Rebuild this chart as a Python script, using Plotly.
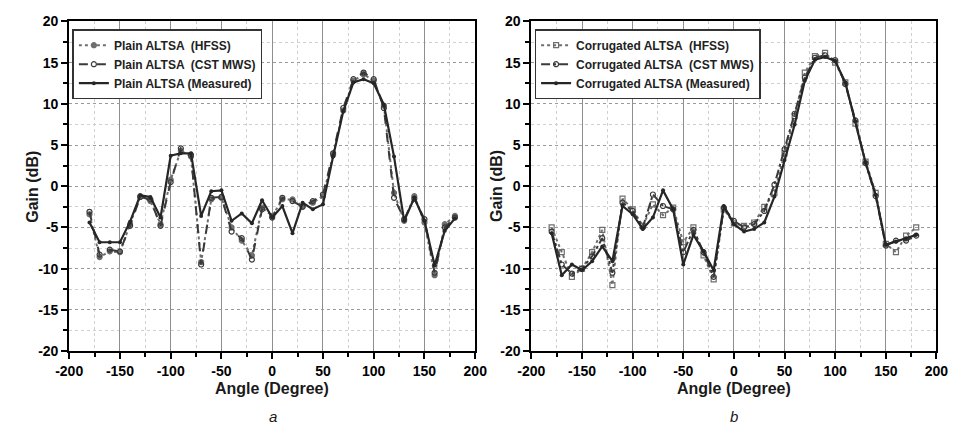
import plotly.graph_objects as go

# Angles (degrees) shared by every pattern cut
angle = [-180, -170, -160, -150, -140, -130, -120, -110, -100, -90, -80, -70, -60,
         -50, -40, -30, -20, -10, 0, 10, 20, 30, 40, 50, 60, 70, 80, 90, 100,
         110, 120, 130, 140, 150, 160, 170, 180]

# (a) Plain ALTSA gain, dB
plain_hfss = [-3.4, -8.6, -7.9, -8.0, -4.6, -1.2, -1.8, -4.6, 0.8, 4.3, 3.6, -9.2,
              -1.6, -1.4, -5.0, -6.6, -8.4, -2.6, -3.6, -1.6, -1.6, -2.4, -2.0, -1.2,
              3.8, 9.2, 12.8, 13.6, 12.8, 9.8, -0.8, -4.2, -1.2, -4.4, -10.8, -4.6, -3.6]
plain_cst = [-3.1, -8.3, -7.7, -7.9, -4.8, -1.3, -1.6, -4.8, 0.5, 4.6, 3.8, -9.5,
             -1.4, -1.3, -5.5, -6.3, -8.9, -2.8, -3.8, -1.4, -1.8, -2.5, -1.8, -1.0,
             4.0, 9.5, 13.0, 13.8, 13.0, 9.5, -1.4, -4.0, -1.5, -4.0, -10.5, -5.0, -3.8]
plain_meas = [-4.4, -6.8, -6.8, -6.8, -4.3, -1.1, -1.3, -3.8, 3.7, 4.0, 4.0, -3.6,
              -0.6, -0.5, -4.2, -3.3, -4.5, -1.7, -3.8, -2.4, -5.7, -2.0, -2.8, -2.2,
              3.6, 9.1, 12.6, 13.0, 12.5, 9.9, 3.6, -4.2, -1.4, -4.2, -9.6, -5.4, -3.9]

# (b) Corrugated ALTSA gain, dB
corr_hfss = [-5.0, -8.0, -11.0, -10.0, -8.0, -5.3, -12.0, -1.5, -2.8, -4.8, -2.2, -3.5,
             -2.6, -6.8, -5.0, -8.4, -11.3, -2.8, -4.5, -4.8, -4.4, -2.5, -0.8, 4.0,
             8.5, 13.8, 15.8, 16.2, 15.0, 12.6, 7.6, 3.0, -0.8, -7.0, -8.0, -6.0, -5.0]
corr_cst = [-5.5, -9.5, -10.6, -10.0, -8.5, -6.3, -10.5, -2.0, -3.0, -5.0, -1.0, -2.4,
            -2.8, -8.0, -5.3, -8.0, -11.0, -2.6, -4.2, -5.0, -4.6, -3.0, 0.2, 4.5,
            8.8, 13.2, 15.6, 15.9, 15.3, 12.4, 8.0, 2.8, -1.2, -7.2, -6.6, -6.6, -6.0]
corr_meas = [-5.7, -10.8, -9.5, -10.2, -9.1, -7.3, -9.1, -2.4, -3.4, -5.2, -3.8, -0.5,
             -2.8, -9.5, -5.9, -7.9, -10.2, -2.4, -4.6, -5.5, -5.2, -4.4, -1.25, 3.2,
             7.5, 12.8, 15.35, 15.7, 15.2, 12.6, 7.9, 2.85, -1.05, -7.1, -6.7, -6.3, -5.9]

x_ticks = [-200, -150, -100, -50, 0, 50, 100, 150, 200]
y_ticks = [-20, -15, -10, -5, 0, 5, 10, 15, 20]
x_labels = [f"<b>{v}</b>" for v in x_ticks]
y_labels = [f"<b>{v}</b>" for v in y_ticks]

FONT = "Liberation Sans, Arial, sans-serif"
C_MEAS = "#262626"
C_CST = "#3a3a3a"
C_HFSS = "#6e6e6e"

fig = go.Figure()


def add_panel(xa, ya, legend, name, hfss, cst, meas, hfss_sym, cst_dash, cst_sym):
    fig.add_trace(go.Scatter(
        x=angle, y=hfss, name=f"<b>{name}  (HFSS)</b>", mode="lines+markers",
        line=dict(color=C_HFSS, width=2, dash="dot"),
        marker=dict(symbol=hfss_sym, size=5, color=C_HFSS, line=dict(width=1.2, color=C_HFSS)),
        xaxis=xa, yaxis=ya, legend=legend))
    fig.add_trace(go.Scatter(
        x=angle, y=cst, name=f"<b>{name}  (CST MWS)</b>", mode="lines+markers",
        line=dict(color=C_CST, width=2, dash=cst_dash),
        marker=dict(symbol=cst_sym, size=5, color=C_CST, line=dict(width=1.2, color=C_CST)),
        xaxis=xa, yaxis=ya, legend=legend))
    fig.add_trace(go.Scatter(
        x=angle, y=meas, name=f"<b>{name} (Measured)</b>", mode="lines+markers",
        line=dict(color=C_MEAS, width=2.2),
        marker=dict(symbol="circle", size=4, color=C_MEAS),
        xaxis=xa, yaxis=ya, legend=legend))


add_panel("x", "y", "legend", "Plain ALTSA", plain_hfss, plain_cst, plain_meas,
          "circle", "dash", "circle-open")
add_panel("x2", "y2", "legend2", "Corrugated ALTSA", corr_hfss, corr_cst, corr_meas,
          "square-open", "dashdot", "circle-open")

tickfont = dict(family=FONT, size=14, color="black")
xaxis_style = dict(
    range=[-200, 200], tickvals=x_ticks, ticktext=x_labels, ticks="outside", ticklen=6,
    tickwidth=2, tickcolor="black", showline=True, linewidth=2, linecolor="black",
    mirror=True, showgrid=True, gridcolor="#8e8e8e", gridwidth=1, zeroline=False,
    tickfont=tickfont,
    minor=dict(dtick=25, tick0=0, ticks="outside", ticklen=4, tickwidth=2, tickcolor="black",
               showgrid=True, gridcolor="#d0d0d0", griddash="dot", gridwidth=1),
)
yaxis_style = dict(
    range=[-20, 20], tickvals=y_ticks, ticktext=y_labels, ticks="outside", ticklen=6,
    tickwidth=2, tickcolor="black", showline=True, linewidth=2, linecolor="black",
    mirror=True, showgrid=True, gridcolor="#9a9a9a", gridwidth=1, griddash="dot",
    zeroline=False, tickfont=tickfont,
    minor=dict(dtick=2.5, tick0=0, ticks="outside", ticklen=4, tickwidth=2, tickcolor="black",
               showgrid=True, gridcolor="#d0d0d0", griddash="dot", gridwidth=1),
)

W, H = 965, 438
y_dom = [(H - 356) / H, (H - 14) / H]
legend_style = dict(
    bgcolor="white", bordercolor="#333", borderwidth=1.5,
    font=dict(family=FONT, size=12, color="#222"),
    xanchor="left", yanchor="top", xref="paper", yref="paper",
    tracegroupgap=0, itemwidth=30,
)

fig.update_layout(
    width=W, height=H, margin=dict(l=0, r=0, t=0, b=0),
    paper_bgcolor="white", plot_bgcolor="white", showlegend=True,
    xaxis=dict(domain=[56.7 / W, 474 / W], anchor="y", **xaxis_style),
    yaxis=dict(domain=y_dom, anchor="x", **yaxis_style),
    xaxis2=dict(domain=[531.7 / W, 948 / W], anchor="y2", **xaxis_style),
    yaxis2=dict(domain=y_dom, anchor="x2", **yaxis_style),
    legend=dict(x=60 / W, y=(H - 22) / H, **legend_style),
    legend2=dict(x=535 / W, y=(H - 22) / H, **legend_style),
)

annots = [
    dict(x=265 / W, y=(H - 395) / H, text="<b>Angle (Degree)</b>", size=16),
    dict(x=740 / W, y=(H - 395) / H, text="<b>Angle (Degree)</b>", size=16),
    dict(x=19 / W, y=(H - 185) / H, text="<b>Gain (dB)</b>", size=16, textangle=-90),
    dict(x=496 / W, y=(H - 185) / H, text="<b>Gain (dB)</b>", size=16, textangle=-90),
    dict(x=266 / W, y=(H - 424) / H, text="<i>a</i>", size=15),
    dict(x=740 / W, y=(H - 424) / H, text="<i>b</i>", size=15),
]
for a in annots:
    size = a.pop("size")
    fig.add_annotation(xref="paper", yref="paper", showarrow=False,
                       xanchor="center", yanchor="middle",
                       font=dict(family=FONT, size=size, color="#1a1a1a"), **a)

fig.write_html("out.html")
